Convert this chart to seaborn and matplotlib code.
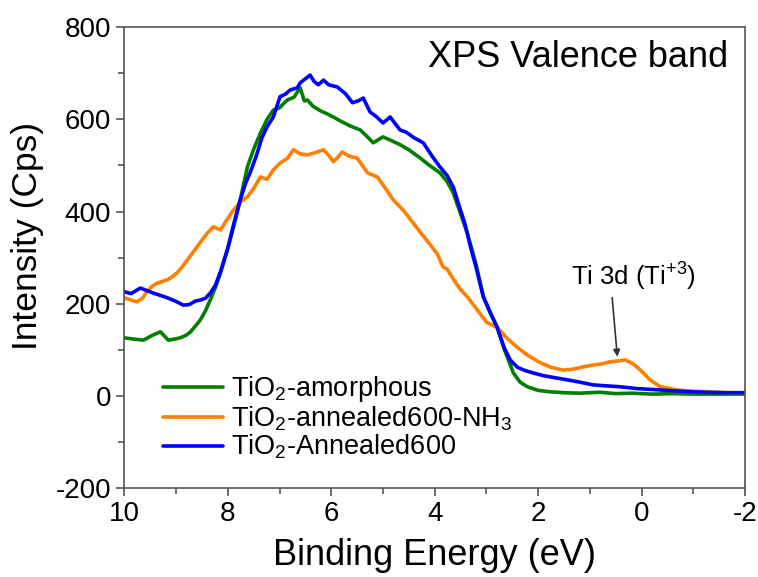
import pandas as pd
import matplotlib
matplotlib.use("Agg")
import matplotlib.pyplot as plt
from matplotlib.ticker import MultipleLocator
import seaborn as sns

# binding energy (eV) / intensity (Cps)
amorph_x = [10.0, 9.8, 9.63, 9.45, 9.3, 9.15, 9.0, 8.92, 8.8, 8.72, 8.6, 8.53, 8.43, 8.34, 8.24, 8.14,
            8.0, 7.88, 7.76, 7.62, 7.5, 7.37, 7.24, 7.12, 7.0, 6.85, 6.72, 6.6, 6.52, 6.46, 6.35, 6.2,
            6.08, 5.96, 5.8, 5.62, 5.44, 5.3, 5.19, 5.0, 4.86, 4.67, 4.5, 4.28, 4.1, 3.9, 3.76, 3.64,
            3.5, 3.37, 3.2, 3.06, 2.92, 2.79, 2.65, 2.48, 2.35, 2.21, 2.0, 1.77, 1.5, 1.2, 0.8, 0.5,
            0.2, -0.2, -0.6, -1.0, -1.5, -2.0]
amorph_y = [126, 123, 121, 132, 139, 121, 124, 126, 132, 139, 155, 165, 185, 208, 235, 267,
            320, 370, 425, 497, 535, 570, 600, 620, 625, 642, 648, 668, 640, 642, 628, 618,
            612, 605, 595, 585, 577, 562, 549, 562, 555, 545, 534, 516, 500, 484, 465, 440,
            395, 353, 285, 215, 178, 148, 100, 50, 30, 20, 12, 9, 7, 6, 8, 5,
            6, 4, 5, 4, 4, 4]

nh3_x = [10.0, 9.87, 9.75, 9.65, 9.56, 9.46, 9.36, 9.27, 9.17, 9.08, 8.98, 8.88, 8.78, 8.67, 8.55,
         8.42, 8.28, 8.14, 8.0, 7.89, 7.76, 7.62, 7.5, 7.37, 7.24, 7.12, 6.99, 6.85, 6.73, 6.6,
         6.46, 6.3, 6.15, 6.05, 5.96, 5.87, 5.79, 5.65, 5.5, 5.4, 5.3, 5.11, 4.95, 4.8, 4.61,
         4.45, 4.28, 4.1, 3.95, 3.84, 3.76, 3.62, 3.51, 3.37, 3.2, 3.0, 2.79, 2.6, 2.41, 2.2,
         1.96, 1.75, 1.52, 1.33, 1.13, 0.94, 0.75, 0.61, 0.45, 0.32, 0.2, 0.09, -0.05, -0.16,
         -0.36, -0.69, -1.0, -1.32, -1.7, -2.0]
nh3_y = [213, 208, 204, 212, 226, 238, 245, 248, 252, 258, 267, 280, 295, 312, 330,
         350, 367, 360, 385, 403, 420, 432, 450, 475, 470, 490, 505, 515, 534, 525,
         523, 528, 534, 522, 508, 518, 529, 520, 516, 500, 484, 475, 450, 425, 403,
         380, 355, 330, 308, 280, 275, 250, 232, 215, 190, 160, 148, 125, 106, 88,
         72, 62, 56, 58, 63, 67, 70, 74, 76, 78, 72, 63, 48, 35,
         20, 13, 10, 9, 7, 7]

ann_x = [10.0, 9.87, 9.69, 9.55, 9.44, 9.3, 9.17, 9.0, 8.86, 8.75, 8.62, 8.53, 8.43, 8.34, 8.24,
         8.14, 8.0, 7.88, 7.76, 7.66, 7.57, 7.45, 7.34, 7.24, 7.12, 6.99, 6.88, 6.79, 6.66, 6.6,
         6.5, 6.41, 6.33, 6.25, 6.15, 6.05, 5.88, 5.72, 5.59, 5.48, 5.38, 5.25, 5.12, 5.0, 4.86,
         4.76, 4.67, 4.55, 4.4, 4.22, 4.05, 3.9, 3.76, 3.64, 3.55, 3.42, 3.3, 3.18, 3.06, 2.92,
         2.79, 2.66, 2.54, 2.4, 2.25, 2.1, 1.9, 1.7, 1.44, 1.2, 0.94, 0.7, 0.42, 0.1, -0.36,
         -0.8, -1.2, -1.6, -2.0]
ann_y = [226, 222, 234, 228, 223, 218, 213, 205, 197, 198, 206, 208, 212, 223, 240,
         270, 320, 375, 425, 460, 484, 520, 560, 584, 605, 649, 655, 664, 668, 679,
         688, 696, 682, 675, 685, 675, 670, 655, 636, 640, 646, 616, 605, 592, 605,
         590, 577, 572, 560, 549, 520, 497, 478, 453, 420, 375, 320, 270, 215, 180,
         148, 105, 78, 62, 55, 50, 44, 40, 35, 30, 24, 22, 20, 16, 13,
         10, 8, 7, 7]

labels = ["TiO$_2$-amorphous", "TiO$_2$-annealed600-NH$_3$", "TiO$_2$-Annealed600"]
colors = ["#008000", "#ff7f00", "#0000ff"]

df = pd.concat([
    pd.DataFrame({"BE": amorph_x, "I": amorph_y, "sample": labels[0]}),
    pd.DataFrame({"BE": nh3_x, "I": nh3_y, "sample": labels[1]}),
    pd.DataFrame({"BE": ann_x, "I": ann_y, "sample": labels[2]}),
])

sns.set_style("ticks")
plt.rcParams["font.family"] = ["Liberation Sans", "DejaVu Sans"]
plt.rcParams["mathtext.fontset"] = "custom"
plt.rcParams["mathtext.rm"] = "Liberation Sans"
plt.rcParams["mathtext.it"] = "Liberation Sans:italic"
plt.rcParams["axes.unicode_minus"] = False
plt.rcParams["text.color"] = "black"
plt.rcParams["axes.labelcolor"] = "black"

fig = plt.figure(figsize=(7.58, 5.77), dpi=100)
ax = fig.add_axes([0.164, 0.154, 0.819, 0.799])

sns.lineplot(data=df, x="BE", y="I", hue="sample", hue_order=labels,
             palette=dict(zip(labels, colors)), estimator=None, linewidth=2.6, ax=ax)

ax.set_xlim(10, -2)
ax.set_ylim(-200, 800)
ax.xaxis.set_major_locator(MultipleLocator(2))
ax.xaxis.set_minor_locator(MultipleLocator(1))
ax.yaxis.set_major_locator(MultipleLocator(200))
ax.yaxis.set_minor_locator(MultipleLocator(100))
ax.tick_params(which="both", direction="out", color="#555555", width=1.2, labelcolor="black")
ax.tick_params(which="major", length=6, labelsize=20)
ax.tick_params(which="minor", length=4)
for s in ax.spines.values():
    s.set_color("#555555")
    s.set_linewidth(1.2)

ax.set_xlabel("Binding Energy (eV)", fontsize=26, labelpad=8)
ax.set_ylabel("Intensity (Cps)", fontsize=25.5)
ax.yaxis.set_label_coords(-0.13, 0.547)

h, l = ax.get_legend_handles_labels()
leg = ax.legend(h, l, loc="upper left", bbox_to_anchor=(0.045, 0.27), frameon=False,
                fontsize=19.5, handlelength=2.2, labelspacing=0.0, borderaxespad=0, handletextpad=0.3)
for line in leg.get_lines():
    line.set_linewidth(2.6)

ax.text(0.973, 0.972, "XPS Valence band", transform=ax.transAxes, ha="right", va="top", fontsize=26)
ax.annotate("", xy=(0.47, 85), xytext=(0.57, 213),
            arrowprops=dict(arrowstyle="-|>", color="#333333", lw=1.2, shrinkA=0, shrinkB=0))
ax.text(0.16, 258, "Ti 3d (Ti$^{+3}$)", ha="center", va="center", fontsize=18.5)

fig.savefig("out.png", dpi=100)
